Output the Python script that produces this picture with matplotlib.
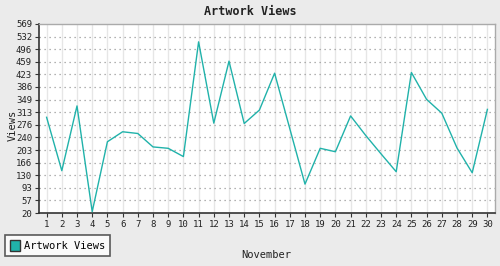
import matplotlib
matplotlib.use("Agg")
import matplotlib.pyplot as plt
from matplotlib.patches import Patch

days = list(range(1, 31))
views = [298, 143, 331, 24, 227, 256, 251, 212, 208, 184, 517, 281, 461, 280, 319,
         426, 265, 104, 208, 198, 302, 245, 192, 140, 428, 350, 310, 209, 137, 321]
yticks = [20, 57, 93, 130, 166, 203, 240, 276, 313, 349, 386, 423, 459, 496, 532, 569]

plt.rcParams['font.family'] = ['DejaVu Sans Mono']
fig = plt.figure(figsize=(5, 2.66), dpi=100, facecolor='#ebebeb')
ax = fig.add_axes([0.078, 0.199, 0.912, 0.711])
ax.set_facecolor('white')

for d in days:
    ax.axvline(d, color='#e6e6e6', lw=1, zorder=0)
for t in yticks[1:-1]:
    ax.axhline(t, color='#999999', lw=0.9, ls=(0, (1, 3)), zorder=0)

ax.plot(days, views, color='#20b2aa', lw=1.0, zorder=3, label='Artwork Views')

ax.set_xlim(0.5, 30.5)
ax.set_ylim(20, 569)
ax.set_xticks(days)
ax.set_yticks(yticks)
ax.tick_params(axis='both', labelsize=6.5, length=3, width=0.8, color='#333333', pad=2,
               labelcolor='#222222')
for s in ['left', 'bottom']:
    ax.spines[s].set_color('#333333')
    ax.spines[s].set_linewidth(1.2)
for s in ['top', 'right']:
    ax.spines[s].set_color('#aaaaaa')
    ax.spines[s].set_linewidth(1.0)

fig.text(0.5, 0.955, 'Artwork Views', ha='center', va='center', fontsize=8.5, fontweight='bold', color='#222222')
fig.text(0.025, 0.53, 'Views', ha='center', va='center', rotation=90, fontsize=7.5, color='#222222')
fig.text(0.532, 0.041, 'November', ha='center', va='center', fontsize=7.5, color='#222222')

leg = fig.legend(handles=[Patch(facecolor='#20b2aa', edgecolor='#333333', lw=1.0, label='Artwork Views')],
                 loc='lower left', bbox_to_anchor=(0.01, 0.038), fontsize=7.5, frameon=True,
                 fancybox=False, edgecolor='#333333', handlelength=1.0, handleheight=1.3,
                 borderpad=0.45, handletextpad=0.4, borderaxespad=0)
leg.get_frame().set_linewidth(1.2)
leg.get_frame().set_facecolor('white')

fig.savefig('out.png', dpi=100, facecolor=fig.get_facecolor())
